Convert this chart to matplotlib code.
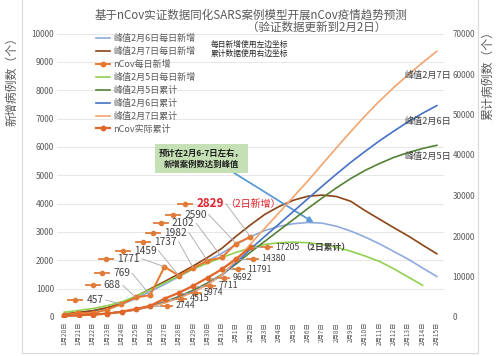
import matplotlib
matplotlib.use('Agg')
import matplotlib.pyplot as plt
from matplotlib.lines import Line2D
from matplotlib.transforms import IdentityTransform

plt.rcParams['font.family'] = ['Noto Sans CJK SC', 'DejaVu Sans']

# ---- data ----
dates = ['1月%d日' % d for d in range(20, 32)] + ['2月%d日' % d for d in range(1, 16)]

new_actual = [77, 149, 131, 259, 457, 688, 769, 1771, 1459, 1737, 1982, 2102, 2590, 2829]
cum_actual = [291, 440, 571, 830, 1287, 1975, 2744, 4515, 5974, 7711, 9692, 11791, 14380, 17205]

new_peak5 = [170, 230, 300, 400, 530, 730, 960, 1200, 1450, 1690, 1900, 2100, 2280,
             2430, 2560, 2620, 2640, 2620, 2560, 2460, 2320, 2150, 1960, 1700, 1410, 1120]
new_peak6 = [100, 150, 210, 300, 440, 650, 900, 1150, 1420, 1700, 1980, 2250, 2560,
             2830, 3050, 3200, 3290, 3335, 3310, 3200, 3030, 2820, 2580, 2310, 2040, 1730, 1430]
new_peak7 = [110, 165, 225, 330, 480, 720, 990, 1250, 1520, 1800, 2100, 2420, 2850,
             3250, 3620, 3900, 4120, 4260, 4300, 4250, 4080, 3750, 3450, 3150, 2860, 2540, 2230]

cum_peak5 = [290, 430, 620, 900, 1300, 1880, 2700, 3750, 5050, 6600, 8400, 10500, 13100,
             16000, 18700, 21400, 24100, 26800, 29400, 31900, 34200, 36200, 37900, 39400,
             40600, 41600, 42400]
cum_peak6 = [270, 400, 580, 840, 1220, 1780, 2550, 3550, 4800, 6300, 8100, 10300, 13400,
             16800, 19900, 23000, 26100, 29200, 32300, 35300, 38200, 40900, 43500, 45900,
             48200, 50300, 52200]
cum_peak7 = [260, 390, 570, 830, 1200, 1750, 2500, 3450, 4650, 6150, 8000, 10400, 14000,
             18000, 21900, 25800, 29700, 33600, 37700, 41800, 45800, 49700, 53300, 56700,
             59800, 62800, 65600]

# label offsets (pixels) of the daily data labels, from their point
new_label_offsets = {4: (-35, 4), 5: (-32, 12), 6: (-37, 22), 7: (-47, 8), 8: (-45, 25),
                     9: (-39, 26), 10: (-43, 28), 11: (-50, 34), 12: (-52, 29), 13: (-54, 33)}

C_BLUE_L = '#8FAADC'
C_BROWN = '#8C4516'
C_ORANGE = '#E8772E'
C_GREEN_L = '#92D050'
C_GREEN_D = '#548235'
C_BLUE = '#4472C4'
C_ORANGE_L = '#F2A46E'
C_CUM = '#E0662A'
GREY = '#595959'

W, H = 502, 356
fig = plt.figure(figsize=(W / 100, H / 100), dpi=100)
ax = fig.add_axes([57 / W, 1 - 317 / H, 387 / W, (317 - 33.5) / H])
ax2 = ax.twinx()

x_all = list(range(len(dates)))

l1, = ax.plot(x_all, new_peak6, color=C_BLUE_L, lw=1.2, label='峰值2月6日每日新增')
l2, = ax.plot(x_all, new_peak7, color=C_BROWN, lw=1.2, label='峰值2月7日每日新增')
l4, = ax.plot(x_all[:len(new_peak5)], new_peak5, color=C_GREEN_L, lw=1.2, label='峰值2月5日每日新增')
l3, = ax.plot(x_all[:len(new_actual)], new_actual, color=C_ORANGE, lw=1.4, marker='o', ms=3.2,
              label='nCov每日新增', zorder=5)

l5, = ax2.plot(x_all, cum_peak5, color=C_GREEN_D, lw=1.2, label='峰值2月5日累计')
l6, = ax2.plot(x_all, cum_peak6, color=C_BLUE, lw=1.2, label='峰值2月6日累计')
l7, = ax2.plot(x_all, cum_peak7, color=C_ORANGE_L, lw=1.2, label='峰值2月7日累计')
l8, = ax2.plot(x_all[:len(cum_actual)], cum_actual, color=C_CUM, lw=1.6, marker='o', ms=3.2,
               label='nCov实际累计', zorder=5)

ax.set_xlim(-0.5, len(dates) - 0.5)
ax.set_ylim(0, 10000)
ax2.set_ylim(0, 70000)
ax.set_yticks(range(0, 10001, 1000))
ax2.set_yticks(range(0, 70001, 10000))
ax.set_xticks(x_all)
ax.set_xticklabels(dates, rotation=90, fontsize=4.6, color=GREY)
ax.tick_params(axis='x', length=0, pad=3.5)
ax.tick_params(axis='y', length=0, pad=2, labelsize=6, labelcolor=GREY)
ax2.tick_params(axis='y', length=0, pad=6, labelsize=5.8, labelcolor=GREY)
ax.grid(axis='y', color='#E3E3E3', lw=0.6)
ax.set_axisbelow(True)
for a in (ax, ax2):
    for s in a.spines.values():
        s.set_visible(False)

leg = ax2.legend(handles=[l1, l2, l3, l4, l5, l6, l7, l8], loc='upper left',
                 bbox_to_anchor=(96 / W, 1 - 34 / H), bbox_transform=fig.transFigure,
                 frameon=False, fontsize=6.5, handlelength=1.6, handletextpad=0.3,
                 labelspacing=0.42, borderpad=0, borderaxespad=0)
for t in leg.get_texts():
    t.set_color(GREY)

# ---- figure texts ----
fig.text(251 / W, 1 - 15 / H, '基于nCov实证数据同化SARS案例模型开展nCov疫情趋势预测',
         ha='center', va='center', fontsize=8.3, color=GREY)
fig.text(317 / W, 1 - 27 / H, '（验证数据更新到2月2日）', ha='center', va='center',
         fontsize=8.3, color=GREY)
fig.text(12 / W, 1 - 78 / H, '新增病例数（个）', rotation=90, ha='center', va='center',
         fontsize=8.6, color=GREY)
fig.text(488 / W, 1 - 72 / H, '累计病例数（个）', rotation=90, ha='center', va='center',
         fontsize=8.6, color=GREY)
fig.text(211 / W, 1 - 49 / H, '每日新增使用左边坐标\n累计数据使用右边坐标', ha='left',
         va='center', fontsize=5.6, color='#262626', linespacing=1.15)

# figure frame
fig.add_artist(Line2D([22 / W, 22 / W, 478 / W, 478 / W], [1.0, 3 / H, 3 / H, 1.0],
                      transform=fig.transFigure, color='#D9D9D9', lw=0.8))

# ---- data labels ----
ident = IdentityTransform()
renderer = fig.canvas.get_renderer()
KEY_C = '#E07B39'


def draw_key(x_left, x_right, y):
    fig.add_artist(Line2D([x_left, x_right], [y, y], transform=ident, color=KEY_C, lw=1.3))
    fig.add_artist(Line2D([(x_left + x_right) / 2], [y], transform=ident, color=KEY_C,
                          marker='o', ms=3, lw=0))


def leader(x0, y0, x1, y1):
    fig.add_artist(Line2D([x0, x1], [y0, y1], transform=ident, color='#A6A6A6', lw=0.6))


for i, (dx, dy) in new_label_offsets.items():
    px, py = ax.transData.transform((i, new_actual[i]))
    tx, ty = px + dx, py + dy
    if i == len(new_actual) - 1:
        t = fig.text(tx, ty, str(new_actual[i]), transform=ident, ha='left', va='center',
                     fontsize=8.4, color='#E0202A', fontweight='bold')
        bb = t.get_window_extent(renderer)
        fig.text(bb.x1 + 1, ty, '（2日新增）', transform=ident, ha='left', va='center',
                 fontsize=7.2, color='#E0202A')
    else:
        t = fig.text(tx, ty, str(new_actual[i]), transform=ident, ha='left', va='center',
                     fontsize=7.3, color='#404040')
        bb = t.get_window_extent(renderer)
    draw_key(tx - 18, tx - 4, ty)
    leader(bb.x1 + 2, ty, px, py)

for i in range(6, len(cum_actual)):
    px, py = ax2.transData.transform((i, cum_actual[i]))
    tx, ty = px + 25, py
    t = fig.text(tx, ty, str(cum_actual[i]), transform=ident, ha='left', va='center',
                 fontsize=6.3, color='#404040')
    if i == len(cum_actual) - 1:
        bb = t.get_window_extent(renderer)
        fig.text(bb.x1 + 1, ty, '（2日累计）', transform=ident, ha='left', va='center',
                 fontsize=6.3, color='#404040', fontweight='bold')
    draw_key(tx - 14, tx - 3, ty)
    leader(px + 3, py, tx - 14, ty)

# peak labels on the cumulative curves
for series, txt, dy in [(cum_peak7, '峰值2月7日', -1), (cum_peak6, '峰值2月6日', 0),
                        (cum_peak5, '峰值2月5日', -4)]:
    ax2.annotate(txt, xy=(24, series[24]), xytext=(-4, dy), textcoords='offset pixels',
                 ha='left', va='center', fontsize=6.6, color='#404040')

# callout box
ax.annotate('预计在2月6-7日左右，\n新增案例数达到峰值', xy=(17.4, new_peak6[17]),
            xytext=(-112, 64), textcoords='offset pixels', ha='center', va='center',
            fontsize=6.0, fontweight='bold', color='#1F1F1F', linespacing=1.3,
            bbox=dict(boxstyle='square,pad=0.5', fc='#C5E0B4', ec='none'),
            arrowprops=dict(arrowstyle='-|>', color='#5B9BD5', lw=1.3, mutation_scale=8,
                            relpos=(0.8, 0.0), shrinkA=0, shrinkB=0),
            zorder=6)

fig.savefig('out.png', dpi=100)
